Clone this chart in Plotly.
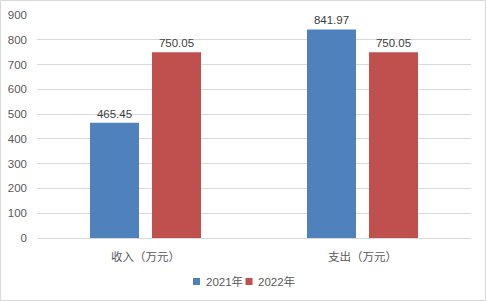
import plotly.graph_objects as go

categories = ["收入（万元）", "支出（万元）"]
series_names = ["2021年", "2022年"]
values_2021 = [465.45, 841.97]
values_2022 = [750.05, 750.05]
colors = ["#4F81BD", "#C0504D"]
y_ticks = [0, 100, 200, 300, 400, 500, 600, 700, 800, 900]

W, H = 486, 301
L, R, T, B = 37, 15, 15, 63
pw, ph = W - L - R, H - T - B

font_family = "Liberation Sans, Noto Sans CJK SC, sans-serif"
txt_color = "#595959"

fig = go.Figure()
for name, vals, col in zip(series_names, [values_2021, values_2022], colors):
    fig.add_trace(go.Bar(
        x=categories, y=vals, name=name, marker_color=col,
        marker_line_width=0, showlegend=False,
        text=[f"{v:.2f}" for v in vals], textposition="outside",
        textfont=dict(size=11.5, color="#404040", family=font_family),
        cliponaxis=False,
    ))


def px_x(px):
    return (px - L) / pw


def px_y(py):
    return (T + ph - py) / ph


# manual legend (small squares + labels), laid out like the reference
legend_sq_left = [193, 245.5]
legend_txt_left = [203.5, 256]
sq_size = 7
sq_top = 278
legend_mid = 281

shapes = [dict(type="rect", xref="paper", yref="paper",
               x0=px_x(0.5), x1=px_x(W - 0.5),
               y0=px_y(H - 0.5), y1=px_y(0.5),
               line=dict(color="#D9D9D9", width=1), fillcolor="rgba(0,0,0,0)",
               layer="below")]
annotations = []
for name, col, sx, tx in zip(series_names, colors, legend_sq_left, legend_txt_left):
    shapes.append(dict(type="rect", xref="paper", yref="paper",
                       x0=px_x(sx), x1=px_x(sx + sq_size),
                       y0=px_y(sq_top + sq_size), y1=px_y(sq_top),
                       line=dict(width=0), fillcolor=col))
    annotations.append(dict(text=name, xref="paper", yref="paper",
                            x=px_x(tx), y=px_y(legend_mid), xanchor="left",
                            yanchor="middle", showarrow=False,
                            font=dict(size=11.5, color=txt_color, family=font_family)))

fig.update_layout(
    width=W, height=H,
    margin=dict(l=L, r=R, t=T, b=B, pad=0, autoexpand=False),
    paper_bgcolor="white", plot_bgcolor="white",
    barmode="group", bargap=0.4286, bargroupgap=0.2097,
    font=dict(family=font_family, size=11.5, color=txt_color),
    showlegend=False,
    xaxis=dict(showgrid=False, showline=True, linecolor="#D9D9D9", linewidth=1,
               ticks="", tickfont=dict(size=11.5, color=txt_color), automargin=False,
               ticklabelstandoff=8),
    yaxis=dict(range=[0, 900], tickvals=y_ticks, showgrid=True, gridcolor="#D9D9D9",
               gridwidth=1, zeroline=False, showline=False, ticks="",
               tickfont=dict(size=11.5, color=txt_color), ticklabelstandoff=9,
               automargin=False),
    shapes=shapes,
    annotations=annotations,
)

fig.write_html("out.html")
